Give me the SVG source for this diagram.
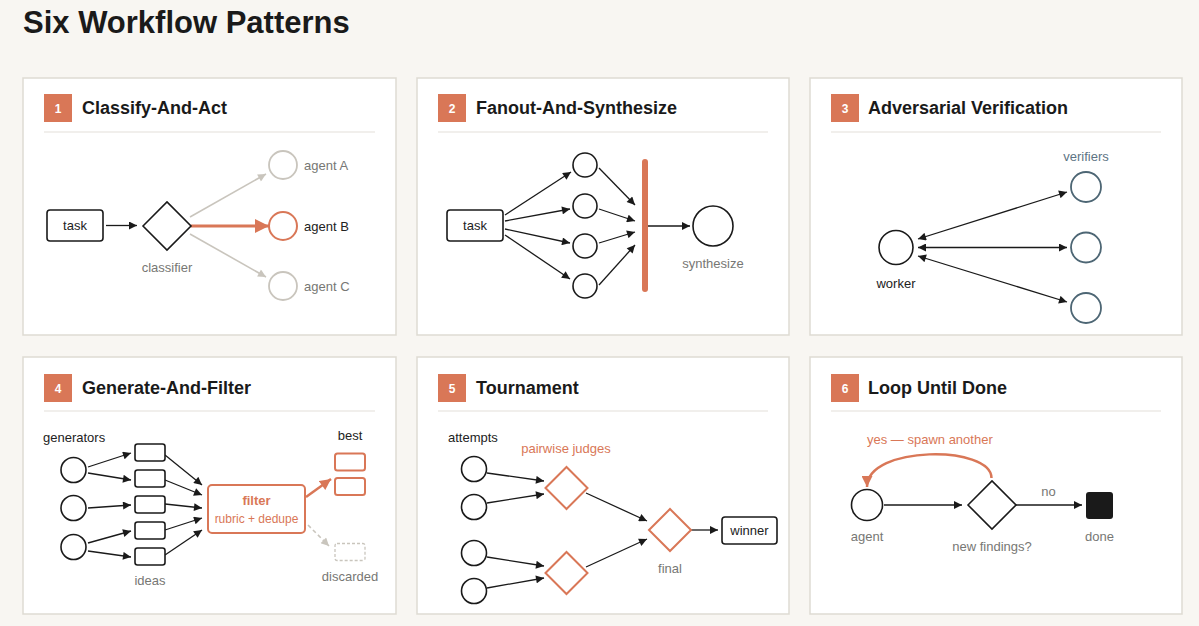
<svg xmlns="http://www.w3.org/2000/svg" width="1199" height="626" viewBox="0 0 1199 626">
<style>
text{font-family:"Liberation Sans",Arial,Helvetica,sans-serif}
.title{font-size:31px;font-weight:bold;fill:#1a1a1a}
.panel{fill:#ffffff;stroke:#dedbd3;stroke-width:1.5}
.badge{fill:#D97757}
.num{font-size:12px;font-weight:bold;fill:#ffffff;text-anchor:middle}
.ptitle{font-size:18px;font-weight:bold;fill:#1a1a1a}
.div{stroke:#e3e0da;stroke-width:1.2}
.lbl{font-size:13px;fill:#777774}
.dk{font-size:13px;fill:#222222}
.mid{text-anchor:middle}
.or{fill:#D97757}
.sl{fill:#5d7484}
.n{fill:#ffffff;stroke:#1a1a1a;stroke-width:1.6}
.no{fill:#ffffff;stroke:#D97757;stroke-width:2}
.ng{fill:#ffffff;stroke:#c9c5bd;stroke-width:1.8}
.ns{fill:#ffffff;stroke:#4d6674;stroke-width:1.8}
.e{stroke:#1a1a1a;stroke-width:1.3;fill:none;marker-end:url(#ab)}
.eg{stroke:#c9c5bd;stroke-width:1.6;fill:none;marker-end:url(#ag)}
</style>
<defs>
<marker id="ab" viewBox="0 0 10 10" refX="10" refY="5" markerWidth="10" markerHeight="8" markerUnits="userSpaceOnUse" orient="auto-start-reverse"><path d="M0,0 L10,5 L0,10 z" fill="#1a1a1a"/></marker>
<marker id="ag" viewBox="0 0 10 10" refX="10" refY="5" markerWidth="10" markerHeight="8" markerUnits="userSpaceOnUse" orient="auto"><path d="M0,0 L10,5 L0,10 z" fill="#c9c5bd"/></marker>
<marker id="aob" viewBox="0 0 10 10" refX="10" refY="5" markerWidth="16" markerHeight="14" markerUnits="userSpaceOnUse" orient="auto"><path d="M0,0 L10,5 L0,10 z" fill="#D97757"/></marker>
<marker id="aom" viewBox="0 0 10 10" refX="10" refY="5" markerWidth="12" markerHeight="11" markerUnits="userSpaceOnUse" orient="auto"><path d="M0,0 L10,5 L0,10 z" fill="#D97757"/></marker>
</defs>
<rect x="0" y="0" width="1199" height="626" fill="#f8f6f2"/>
<text class="title" x="23" y="33">Six Workflow Patterns</text>

<!-- panel frames -->
<g id="panels">
<rect class="panel" x="23" y="78" width="373" height="257"/>
<rect class="panel" x="417" y="78" width="372" height="257"/>
<rect class="panel" x="810" y="78" width="372" height="257"/>
<rect class="panel" x="23" y="357" width="373" height="257"/>
<rect class="panel" x="417" y="357" width="372" height="257"/>
<rect class="panel" x="810" y="357" width="372" height="257"/>
</g>

<!-- headers -->
<g id="headers">
<rect class="badge" x="44" y="94" width="28" height="28"/><text class="num" x="58" y="112.5">1</text>
<text class="ptitle" x="82" y="114">Classify-And-Act</text><line class="div" x1="44" y1="132" x2="375" y2="132"/>
<rect class="badge" x="438" y="94" width="28" height="28"/><text class="num" x="452" y="112.5">2</text>
<text class="ptitle" x="476" y="114">Fanout-And-Synthesize</text><line class="div" x1="438" y1="132" x2="768" y2="132"/>
<rect class="badge" x="831" y="94" width="28" height="28"/><text class="num" x="845" y="112.5">3</text>
<text class="ptitle" x="868" y="114">Adversarial Verification</text><line class="div" x1="831" y1="132" x2="1161" y2="132"/>
<rect class="badge" x="44" y="374" width="28" height="28"/><text class="num" x="58" y="392.5">4</text>
<text class="ptitle" x="82" y="394">Generate-And-Filter</text><line class="div" x1="44" y1="411" x2="375" y2="411"/>
<rect class="badge" x="438" y="374" width="28" height="28"/><text class="num" x="452" y="392.5">5</text>
<text class="ptitle" x="476" y="394">Tournament</text><line class="div" x1="438" y1="411" x2="768" y2="411"/>
<rect class="badge" x="831" y="374" width="28" height="28"/><text class="num" x="845" y="392.5">6</text>
<text class="ptitle" x="868" y="394">Loop Until Done</text><line class="div" x1="831" y1="411" x2="1161" y2="411"/>
</g>

<!-- connectors -->
<g id="connectors">
<!-- panel 1 -->
<line class="e" x1="106" y1="225.5" x2="137" y2="225.5"/>
<line class="eg" x1="190" y1="217" x2="266" y2="174"/>
<line class="eg" x1="190" y1="234" x2="266" y2="277"/>
<line x1="191" y1="226" x2="269" y2="226" stroke="#D97757" stroke-width="3" marker-end="url(#aob)"/>
<!-- panel 2 -->
<line class="e" x1="505" y1="215" x2="571" y2="172"/>
<line class="e" x1="505" y1="221" x2="570" y2="209"/>
<line class="e" x1="505" y1="229" x2="570" y2="243"/>
<line class="e" x1="505" y1="235" x2="570" y2="279"/>
<line class="e" x1="599" y1="168" x2="635" y2="205"/>
<line class="e" x1="599" y1="209" x2="635" y2="221"/>
<line class="e" x1="599" y1="243" x2="635" y2="232"/>
<line class="e" x1="599" y1="285" x2="635" y2="245"/>
<line class="e" x1="648" y1="226" x2="690" y2="226"/>
<!-- panel 3 -->
<line class="e" x1="918" y1="239" x2="1067" y2="192" marker-start="url(#ab)"/>
<line class="e" x1="918" y1="247.5" x2="1067" y2="247.5" marker-start="url(#ab)"/>
<line class="e" x1="918" y1="256" x2="1067" y2="302" marker-start="url(#ab)"/>
<!-- panel 4 -->
<line class="e" x1="88" y1="467" x2="131" y2="453"/>
<line class="e" x1="88" y1="473" x2="131" y2="480"/>
<line class="e" x1="88" y1="508" x2="131" y2="505"/>
<line class="e" x1="88" y1="543" x2="131" y2="531"/>
<line class="e" x1="88" y1="551" x2="131" y2="557"/>
<line class="e" x1="165" y1="455" x2="202" y2="485"/>
<line class="e" x1="165" y1="480" x2="202" y2="495"/>
<line class="e" x1="165" y1="504" x2="202" y2="508"/>
<line class="e" x1="165" y1="530" x2="202" y2="518"/>
<line class="e" x1="165" y1="555" x2="202" y2="530"/>
<line x1="306" y1="497" x2="331" y2="479" stroke="#D97757" stroke-width="2.5" marker-end="url(#aom)"/>
<line class="eg" x1="308" y1="525" x2="329" y2="546" stroke-dasharray="4 3"/>
<!-- panel 5 -->
<line class="e" x1="487" y1="473" x2="544" y2="481"/>
<line class="e" x1="487" y1="503" x2="544" y2="494"/>
<line class="e" x1="487" y1="557" x2="544" y2="566"/>
<line class="e" x1="487" y1="588" x2="544" y2="578"/>
<line class="e" x1="586" y1="493" x2="647" y2="521"/>
<line class="e" x1="586" y1="567" x2="647" y2="539"/>
<line class="e" x1="691" y1="530" x2="718" y2="530"/>
<!-- panel 6 -->
<line class="e" x1="884" y1="505" x2="962" y2="505"/>
<line class="e" x1="1016" y1="505" x2="1082" y2="505"/>
<path d="M 991.5 478 C 991.5 445 867 445 867 487" fill="none" stroke="#D97757" stroke-width="2.5" marker-end="url(#aom)"/>
</g>

<!-- panel 1 nodes -->
<g id="p1-task"><rect class="n" x="47" y="210" width="56" height="31" rx="3"/><text class="dk mid" x="75" y="230">task</text></g>
<g id="p1-classifier"><polygon class="n" points="143,226 167,202 191,226 167,250"/><text class="lbl mid" x="167" y="272">classifier</text></g>
<g id="p1-agentA"><circle class="ng" cx="283" cy="165" r="14"/><text class="lbl" x="304" y="169.5">agent A</text></g>
<g id="p1-agentB"><circle class="no" cx="283" cy="226" r="14" stroke-width="2.2"/><text class="dk" x="304" y="230.5">agent B</text></g>
<g id="p1-agentC"><circle class="ng" cx="283" cy="286" r="14"/><text class="lbl" x="304" y="290.5">agent C</text></g>

<!-- panel 2 nodes -->
<g id="p2-task"><rect class="n" x="447" y="210" width="56" height="31" rx="3"/><text class="dk mid" x="475" y="230">task</text></g>
<g id="p2-w1"><circle class="n" cx="585" cy="165" r="12"/></g>
<g id="p2-w2"><circle class="n" cx="585" cy="206" r="12"/></g>
<g id="p2-w3"><circle class="n" cx="585" cy="246" r="12"/></g>
<g id="p2-w4"><circle class="n" cx="585" cy="286" r="12"/></g>
<g id="p2-bar"><rect x="642" y="159" width="6" height="133" rx="3" fill="#D97757"/></g>
<g id="p2-synth"><circle class="n" cx="713" cy="226" r="20"/><text class="lbl mid" x="713" y="268">synthesize</text></g>

<!-- panel 3 nodes -->
<g id="p3-worker"><circle class="n" cx="896" cy="247.5" r="17"/><text class="dk mid" x="896" y="288">worker</text></g>
<g id="p3-verifiers">
<text class="lbl mid sl" x="1086" y="161">verifiers</text>
<circle class="ns" cx="1086" cy="187" r="15"/>
<circle class="ns" cx="1086" cy="247.5" r="15"/>
<circle class="ns" cx="1086" cy="308" r="15"/>
</g>

<!-- panel 4 nodes -->
<g id="p4-generators">
<text class="dk" x="43" y="442">generators</text>
<circle class="n" cx="73.5" cy="470" r="12.5"/>
<circle class="n" cx="73.5" cy="508" r="12.5"/>
<circle class="n" cx="73.5" cy="547" r="12.5"/>
</g>
<g id="p4-ideas">
<rect class="n" x="135" y="444" width="30" height="17" rx="2.5"/>
<rect class="n" x="135" y="470" width="30" height="17" rx="2.5"/>
<rect class="n" x="135" y="496" width="30" height="17" rx="2.5"/>
<rect class="n" x="135" y="522" width="30" height="17" rx="2.5"/>
<rect class="n" x="135" y="548" width="30" height="17" rx="2.5"/>
<text class="lbl mid" x="150" y="585">ideas</text>
</g>
<g id="p4-filter"><rect class="no" x="208" y="485" width="97" height="48" rx="4" fill="#fffaf7"/>
<text class="mid or" x="256.5" y="505" font-size="13" font-weight="bold">filter</text>
<text class="mid or" x="256.5" y="522.5" font-size="12">rubric + dedupe</text></g>
<g id="p4-best"><text class="dk mid" x="350" y="440">best</text>
<rect class="no" x="335" y="453.5" width="30" height="17" rx="2.5" stroke-width="1.6"/>
<rect class="no" x="335" y="478" width="30" height="17" rx="2.5" stroke-width="1.6"/></g>
<g id="p4-discarded"><rect x="335" y="543.5" width="30" height="17" rx="2" fill="none" stroke="#c9c5bd" stroke-width="1.3" stroke-dasharray="3 2"/>
<text class="lbl mid" x="350" y="581">discarded</text></g>

<!-- panel 5 nodes -->
<g id="p5-attempts">
<text class="dk" x="448" y="442">attempts</text>
<circle class="n" cx="474" cy="469" r="12.5"/>
<circle class="n" cx="474" cy="507" r="12.5"/>
<circle class="n" cx="474" cy="553" r="12.5"/>
<circle class="n" cx="474" cy="591" r="12.5"/>
</g>
<g id="p5-judges"><text class="mid or" x="566" y="453" font-size="13">pairwise judges</text>
<polygon class="no" points="545.5,488 566.5,467 587.5,488 566.5,509"/>
<polygon class="no" points="545.5,573 566.5,552 587.5,573 566.5,594"/></g>
<g id="p5-final"><polygon class="no" points="649,530 670,509 691,530 670,551"/><text class="lbl mid" x="670" y="572.5">final</text></g>
<g id="p5-winner"><rect class="n" x="722" y="517" width="55" height="27" rx="3"/><text class="dk mid" x="749.5" y="535">winner</text></g>

<!-- panel 6 nodes -->
<g id="p6-agent"><circle class="n" cx="867" cy="505" r="15.5"/><text class="lbl mid" x="867" y="541">agent</text></g>
<g id="p6-decision"><polygon class="n" points="968,505 992,481 1016,505 992,529"/><text class="lbl mid" x="992" y="551">new findings?</text></g>
<g id="p6-done"><rect x="1086" y="492" width="27" height="27" rx="3" fill="#1a1a1a"/><text class="lbl mid" x="1099.5" y="541">done</text></g>
<g id="p6-labels"><text class="mid lbl" x="1048.5" y="496">no</text>
<text class="or" x="867" y="444" font-size="13">yes — spawn another</text></g>
</svg>
